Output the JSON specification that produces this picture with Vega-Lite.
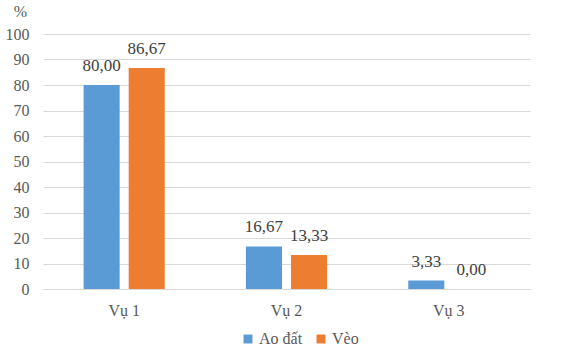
{
  "$schema": "https://vega.github.io/schema/vega-lite/v6.json",
  "width": 487,
  "height": 255,
  "autosize": {"type": "none"},
  "padding": {"left": 43, "top": 34, "right": 43, "bottom": 73},
  "background": "white",
  "config": {
    "locale": {"number": {"decimal": ",", "thousands": ".", "grouping": [3], "currency": ["", ""]}},
    "font": "Liberation Serif, Times New Roman, serif",
    "view": {"stroke": null},
    "axis": {"labelFont": "Liberation Serif, Times New Roman, serif", "labelFontSize": 16, "labelColor": "#595959", "titleFont": "Liberation Serif, Times New Roman, serif", "titleColor": "#595959", "titleFontWeight": "normal", "titleFontSize": 16},
    "legend": {"labelFont": "Liberation Serif, Times New Roman, serif", "labelFontSize": 16, "labelColor": "#595959"}
  },
  "data": {
    "values": [
      {"vu": "Vụ 1", "loai": "Ao đất", "pct": 80.00},
      {"vu": "Vụ 1", "loai": "Vèo", "pct": 86.67},
      {"vu": "Vụ 2", "loai": "Ao đất", "pct": 16.67},
      {"vu": "Vụ 2", "loai": "Vèo", "pct": 13.33},
      {"vu": "Vụ 3", "loai": "Ao đất", "pct": 3.33},
      {"vu": "Vụ 3", "loai": "Vèo", "pct": 0.00}
    ]
  },
  "encoding": {
    "x": {
      "field": "vu", "type": "nominal",
      "scale": {"paddingInner": 0.5, "paddingOuter": 0.25},
      "axis": {"title": null, "labelAngle": 0, "ticks": false, "domain": true, "domainColor": "#d9d9d9", "labelPadding": 13}
    },
    "xOffset": {"field": "loai", "type": "nominal", "scale": {"paddingInner": 0.2, "paddingOuter": 0, "domain": ["Ao đất", "Vèo"]}},
    "y": {
      "field": "pct", "type": "quantitative",
      "scale": {"domain": [0, 100]},
      "axis": {"values": [0,10,20,30,40,50,60,70,80,90,100], "title": "%", "titleAngle": 0, "titleAlign": "center", "titleBaseline": "bottom", "titleX": -23, "titleY": -15, "ticks": false, "domain": false, "gridColor": "#d9d9d9", "labelPadding": 14}
    }
  },
  "layer": [
    {
      "mark": {"type": "bar"},
      "encoding": {
        "color": {
          "field": "loai", "type": "nominal",
          "scale": {"domain": ["Ao đất", "Vèo"], "range": ["#5B9BD5", "#ED7D31"]},
          "legend": {"title": null, "orient": "none", "legendX": 197, "legendY": 297, "direction": "horizontal", "symbolType": "square", "symbolSize": 80, "symbolStrokeWidth": 0, "symbolOpacity": 1, "labelOffset": 3, "columnPadding": 10}
        }
      }
    },
    {
      "mark": {"type": "text", "dy": -10, "baseline": "bottom", "fontSize": 17, "color": "#404040", "font": "Liberation Serif, Times New Roman, serif"},
      "encoding": {
        "text": {"field": "pct", "type": "quantitative", "format": ".2f"}
      }
    }
  ]
}
